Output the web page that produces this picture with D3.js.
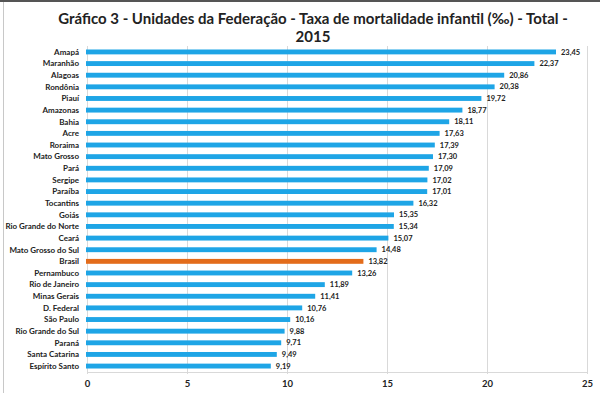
<!DOCTYPE html>
<html>
<head>
<meta charset="utf-8">
<script src="https://cdn.jsdelivr.net/npm/d3@7"></script>
<style>
  html, body { margin: 0; padding: 0; background: #fff; }
  svg { display: block; }
</style>
</head>
<body>
<svg id="chart" width="600" height="393"></svg>
<script>
// Data
const states = [
  "Amapá", "Maranhão", "Alagoas", "Rondônia", "Piauí", "Amazonas", "Bahia",
  "Acre", "Roraima", "Mato Grosso", "Pará", "Sergipe", "Paraíba", "Tocantins",
  "Goiás", "Rio Grande do Norte", "Ceará", "Mato Grosso do Sul", "Brasil",
  "Pernambuco", "Rio de Janeiro", "Minas Gerais", "D. Federal", "São Paulo",
  "Rio Grande do Sul", "Paraná", "Santa Catarina", "Espírito Santo"
];
const rates = [
  23.45, 22.37, 20.86, 20.38, 19.72, 18.77, 18.11,
  17.63, 17.39, 17.30, 17.09, 17.02, 17.01, 16.32,
  15.35, 15.34, 15.07, 14.48, 13.82,
  13.26, 11.89, 11.41, 10.76, 10.16,
  9.88, 9.71, 9.49, 9.19
];
const xTicks = [0, 5, 10, 15, 20, 25];
const highlight = "Brasil";

const titleLines = [
  "Gráfico 3 - Unidades da Federação - Taxa de mortalidade infantil (‰)  - Total -",
  "2015"
];

const data = states.map((s, i) => ({ state: s, value: rates[i] }));

const svg = d3.select("#chart");
const W = 600, H = 393;
const margin = { top: 46, right: 13, bottom: 21, left: 87 };
const font = "Lato, 'Open Sans', sans-serif";

// frame
svg.append("rect").attr("x", 0).attr("y", 0).attr("width", W).attr("height", 2).attr("fill", "#555");
svg.append("line").attr("x1", 3.5).attr("x2", 3.5).attr("y1", 2).attr("y2", H)
  .attr("stroke", "#c8c8c8").attr("stroke-width", 1);

const x = d3.scaleLinear().domain([0, 25]).range([margin.left, W - margin.right]);
const y = d3.scaleBand().domain(states).range([margin.top, H - margin.bottom]).paddingInner(0.58).paddingOuter(0.3);

// gridlines
svg.append("g").selectAll("line")
  .data(xTicks)
  .join("line")
  .attr("x1", d => x(d) + 0.5).attr("x2", d => x(d) + 0.5)
  .attr("y1", margin.top).attr("y2", H - margin.bottom + 2)
  .attr("stroke", "#d9d9d9").attr("stroke-width", 1);

// baseline
svg.append("line")
  .attr("x1", x(0)).attr("x2", x(25) + 1)
  .attr("y1", H - margin.bottom + 0.5).attr("y2", H - margin.bottom + 0.5)
  .attr("stroke", "#d9d9d9");

// x axis tick labels
const xAxis = d3.axisBottom(x).tickValues(xTicks).tickSize(0).tickPadding(8).tickFormat(d3.format("d"));
const gx = svg.append("g")
  .attr("transform", `translate(0,${H - margin.bottom})`)
  .call(xAxis);
gx.select(".domain").remove();
gx.selectAll("text")
  .attr("font-family", font)
  .attr("font-weight", "bold")
  .attr("font-size", 9.5)
  .attr("fill", "#222");

// bars
svg.append("g").selectAll("rect")
  .data(data)
  .join("rect")
  .attr("x", x(0) - 1)
  .attr("y", d => y(d.state))
  .attr("width", d => x(d.value) - x(0) + 1)
  .attr("height", y.bandwidth())
  .attr("fill", d => d.state === highlight ? "#e36c1b" : "#1ea5e6");

// category labels
svg.append("g").selectAll("text")
  .data(data)
  .join("text")
  .attr("x", x(0) - 8)
  .attr("y", d => y(d.state) + y.bandwidth() / 2)
  .attr("dy", "0.35em")
  .attr("text-anchor", "end")
  .attr("font-family", font)
  .attr("font-weight", "bold")
  .attr("font-size", 8)
  .attr("fill", "#222")
  .text(d => d.state);

// value labels
const fmt = v => d3.format(".2f")(v).replace(".", ",");
svg.append("g").selectAll("text")
  .data(data)
  .join("text")
  .attr("x", d => x(d.value) + 5)
  .attr("y", d => y(d.state) + y.bandwidth() / 2)
  .attr("dy", "0.35em")
  .attr("font-family", font)
  .attr("font-weight", "bold")
  .attr("font-size", 7.5)
  .attr("fill", "#222")
  .text(d => fmt(d.value));

// title
svg.append("g").selectAll("text")
  .data(titleLines)
  .join("text")
  .attr("x", 313)
  .attr("y", (d, i) => 24 + i * 18)
  .attr("text-anchor", "middle")
  .attr("font-family", font)
  .attr("font-weight", "bold")
  .attr("font-size", 15)
  .attr("fill", "#222")
  .text(d => d);
</script>
</body>
</html>
